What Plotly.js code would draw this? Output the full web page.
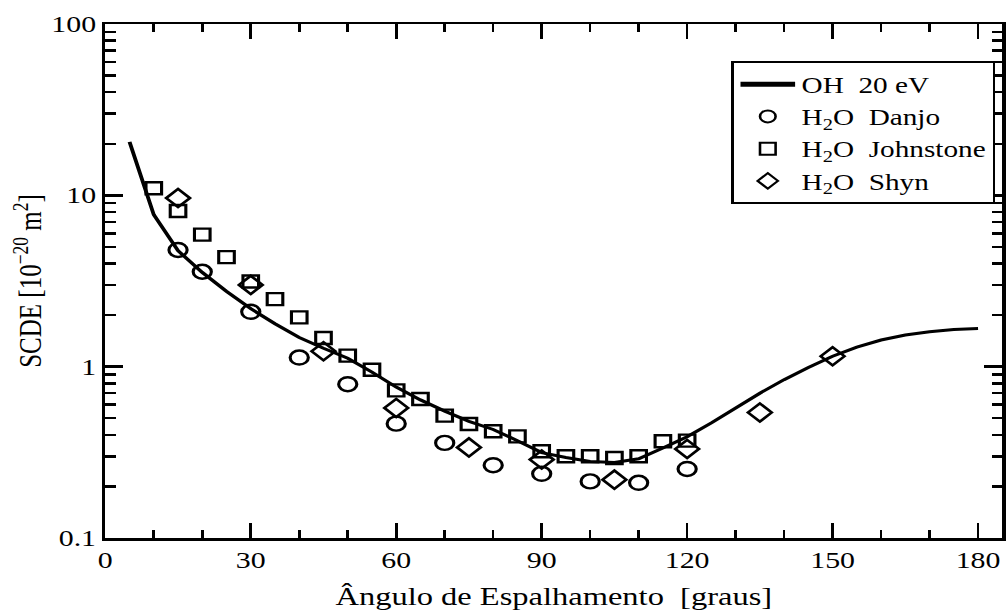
<!DOCTYPE html>
<html>
<head>
<meta charset="utf-8">
<script src="https://cdn.plot.ly/plotly-3.0.1.min.js"></script>
<style>
  html, body { margin: 0; padding: 0; background: #fff; overflow: hidden; }
  /* the figure is laid out narrow and widened horizontally */
  #chart { width: 776px; height: 613px; transform: scaleX(1.3); transform-origin: 0 0; }
</style>
</head>
<body>
<div id="chart"></div>
<script>
// OH elastic differential cross section at 20 eV (theory curve)
const ohAngles = [5, 10, 15, 20, 25, 30, 35, 40, 45, 50, 55, 60, 65, 70, 75, 80, 85, 90,
                  95, 100, 105, 110, 115, 120, 125, 130, 135, 140, 145, 150, 155, 160, 165, 170, 175, 180];
const ohValues = [20.5, 7.7, 4.75, 3.55, 2.75, 2.18, 1.78, 1.48, 1.28, 1.12, 0.93, 0.76, 0.64, 0.55, 0.48, 0.43, 0.37, 0.315,
                  0.295, 0.28, 0.276, 0.29, 0.335, 0.39, 0.47, 0.575, 0.70, 0.84, 0.99, 1.15, 1.30, 1.43, 1.53, 1.60, 1.65, 1.67];

// H2O measurements
const danjoAngles = [15, 20, 30, 40, 50, 60, 70, 80, 90, 100, 110, 120];
const danjoValues = [4.8, 3.58, 2.09, 1.13, 0.79, 0.465, 0.359, 0.266, 0.237, 0.214, 0.21, 0.253];

const johnstoneAngles = [10, 15, 20, 25, 30, 35, 40, 45, 50, 55, 60, 65, 70, 75, 80, 85, 90, 95, 100, 105, 110, 115, 120];
const johnstoneValues = [11.0, 8.1, 5.9, 4.36, 3.14, 2.48, 1.94, 1.47, 1.16, 0.96, 0.727, 0.648, 0.518, 0.463, 0.42, 0.392,
                         0.321, 0.30, 0.30, 0.293, 0.30, 0.367, 0.37];

const shynAngles = [15, 30, 45, 60, 75, 90, 105, 120, 135, 150];
const shynValues = [9.64, 3.0, 1.23, 0.574, 0.338, 0.287, 0.219, 0.331, 0.54, 1.15];

// axis ticks
const xTickVals = [0, 30, 60, 90, 120, 150, 180];
const yTickVals = [0.1, 1, 10, 100];
const yTickText = ['0.1', '1', '10', '100'];
const yMinorVals = [0.2, 0.3, 0.4, 0.5, 0.6, 0.7, 0.8, 0.9,
                    2, 3, 4, 5, 6, 7, 8, 9,
                    20, 30, 40, 50, 60, 70, 80, 90];

const FONT = 'Liberation Serif, Times New Roman, serif';
const markerLine = { color: '#000', width: 2.4 };

const traces = [
  {
    x: ohAngles, y: ohValues, mode: 'lines', name: 'OH  20 eV',
    line: { color: '#000', width: 3 }
  },
  {
    x: danjoAngles, y: danjoValues, mode: 'markers', name: 'H<sub>2</sub>O  Danjo',
    marker: { symbol: 'circle-open', size: 14, color: '#000', line: markerLine }
  },
  {
    x: johnstoneAngles, y: johnstoneValues, mode: 'markers', name: 'H<sub>2</sub>O  Johnstone',
    marker: { symbol: 'square-open', size: 12, color: '#000', line: markerLine }
  },
  {
    x: shynAngles, y: shynValues, mode: 'markers', name: 'H<sub>2</sub>O  Shyn',
    marker: { symbol: 'diamond-open', size: 14, color: '#000', line: markerLine }
  }
];

const layout = {
  width: 776, height: 613,
  paper_bgcolor: '#fff', plot_bgcolor: '#fff',
  margin: { l: 81, r: 5, t: 24, b: 75, autoexpand: false },
  font: { family: FONT, size: 23, color: '#000' },
  showlegend: true,
  legend: {
    x: 0.698, y: 0.928, xanchor: 'left', yanchor: 'top',
    bgcolor: '#fff', bordercolor: '#000', borderwidth: 2,
    font: { family: FONT, size: 22.5, color: '#000' },
    tracegroupgap: 0, itemsizing: 'constant', itemwidth: 42,
    entrywidth: 230, entrywidthmode: 'pixels'
  },
  xaxis: {
    range: [0, 185], tickvals: xTickVals,
    showline: true, linecolor: '#000', linewidth: 2.5, mirror: 'allticks',
    ticks: 'inside', ticklen: 15, tickwidth: 2, tickcolor: '#000',
    minor: { dtick: 10, tick0: 0, ticks: 'inside', ticklen: 8, tickwidth: 2, tickcolor: '#000', showgrid: false },
    showgrid: false, zeroline: false,
    tickfont: { family: FONT, size: 23 },
    title: { text: 'Ângulo de Espalhamento  [graus]', font: { family: FONT, size: 25 }, standoff: 16 }
  },
  yaxis: {
    type: 'log', range: [-1, 2], tickvals: yTickVals, ticktext: yTickText,
    showline: true, linecolor: '#000', linewidth: 2.5, mirror: 'allticks',
    ticks: 'inside', ticklen: 14, tickwidth: 2.5, tickcolor: '#000',
    minor: { tickvals: yMinorVals, ticks: 'inside', ticklen: 8, tickwidth: 2.5, tickcolor: '#000', showgrid: false },
    showgrid: false, zeroline: false,
    tickfont: { family: FONT, size: 23 },
    title: { text: 'SCDE [10<sup>−20</sup> m<sup>2</sup>]', font: { family: FONT, size: 25 }, standoff: 0 }
  }
};

Plotly.newPlot('chart', traces, layout, { staticPlot: true, displayModeBar: false });
</script>
</body>
</html>
